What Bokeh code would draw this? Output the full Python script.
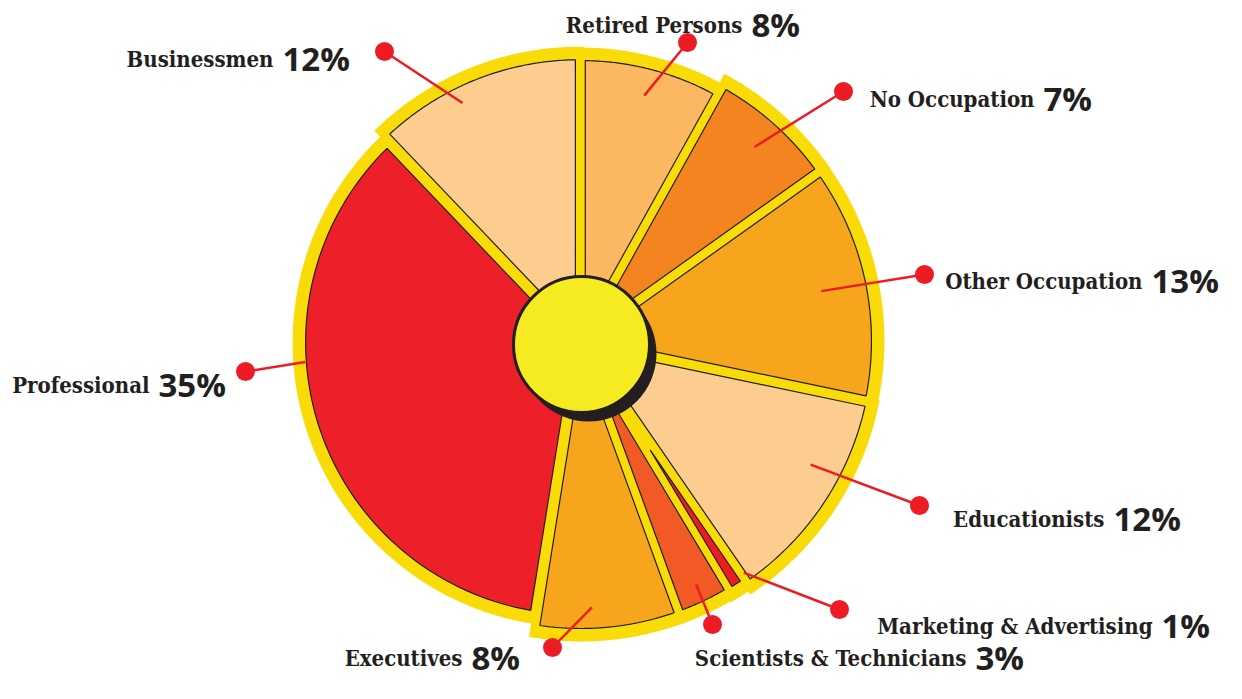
import numpy as np
from bokeh.plotting import figure
from bokeh.models import Range1d, ColumnDataSource
from bokeh.core.properties import value
from bokeh.embed import file_html
from bokeh.resources import INLINE

# ---------------- data ----------------
categories = ["Retired Persons", "No Occupation", "Other Occupation", "Educationists",
              "Marketing & Advertising", "Scientists & Technicians", "Executives",
              "Professional", "Businessmen"]
shares = [8, 7, 13, 12, 1, 3, 8, 35, 12]

# ---------------- style ----------------
colors = ["#fbb861", "#f3841f", "#f7a51d", "#fccd8e", "#ed1c24", "#f15a24",
          "#f7a51d", "#ed2029", "#fccd8e"]
RING = "#f9dc07"
INK = "#231f20"
CENTER_FILL = "#f6eb21"

# layout (page pixels): pie centre, per-wedge radius, label anchors
cx, cy = 588.0, 349.0
radii = [278, 288, 288, 289, 285, 284, 284, 272, 279]
ring_w = 13.0
gap = 8.0
explode = 3.0
hub_x, hub_y, hub_r = 589.0, 352.0, 68.0
dots = [(695, 50), (851, 99), (932, 282), (927, 513), (847, 617),
        (720, 632), (560, 655), (253, 379), (392, 59)]
name_end = [(750, 32), (1042, 106), (1150, 288), (1112, 526), (1160, 633),
            (974, 665), (470, 665), (157, 392), (281, 66)]
tip_angle_offset = [0, 0, 0, -5.5, -2.5, 0, 3, 13, -4.5]
tip_radius = [254, 261, 246, 261, 283, 269, 266, 276, 266]

W, H = 1220, 683
p = figure(width=W, height=H, x_range=Range1d(8, 8 + W), y_range=Range1d(8 + H, 8),
           output_backend="svg", toolbar_location=None, min_border=0,
           x_axis_location=None, y_axis_location=None)
p.grid.visible = False
p.outline_line_color = None
p.background_fill_color = "white"
p.border_fill_color = "white"


def u(a_deg):
    a = np.radians(a_deg)
    return np.sin(a), -np.cos(a)


total = float(sum(shares))
edges = np.concatenate([[0.0], np.cumsum(shares)]) * 360.0 / total

yx, yy, wx, wy, mids = [], [], [], [], []
for i in range(len(shares)):
    a0, a1 = edges[i], edges[i + 1]
    R = radii[i]
    h = (a1 - a0) / 2.0
    m = a0 + h
    mids.append(m)
    ex, ey = u(m)
    ox, oy = explode * ex, explode * ey
    # yellow backing sector
    eps = np.degrees(np.arcsin(5.0 / (R + ring_w)))
    arc = np.linspace(a0 - eps, a1 + eps, 80)
    ax_, ay_ = u(arc)
    yx.append(list(np.concatenate([[cx + ox], cx + ox + (R + ring_w) * ax_])))
    yy.append(list(np.concatenate([[cy + oy], cy + oy + (R + ring_w) * ay_])))
    # coloured wedge, inset by half the gap on each side
    s = (gap / 2.0) / np.sin(np.radians(h))
    d = np.degrees(np.arcsin((gap / 2.0) / R))
    arc = np.linspace(a0 + d, a1 - d, 80)
    ax_, ay_ = u(arc)
    wx.append(list(np.concatenate([[cx + ox + s * ex], cx + ox + R * ax_])))
    wy.append(list(np.concatenate([[cy + oy + s * ey], cy + oy + R * ay_])))

# base ring disk
p.circle(x=[cx], y=[cy], radius=min(radii) + 4, fill_color=RING, line_color=None)
p.patches(xs=yx, ys=yy, fill_color=RING, line_color=None)
p.patches(xs=wx, ys=wy, fill_color=colors, line_color=INK, line_width=1.2)

# leader lines
tx, ty = [], []
for i, m in enumerate(mids):
    ex, ey = u(m + tip_angle_offset[i])
    tx.append(cx + tip_radius[i] * ex)
    ty.append(cy + tip_radius[i] * ey)
dx = [d[0] for d in dots]
dy = [d[1] for d in dots]
p.segment(x0=tx, y0=ty, x1=dx, y1=dy, line_color="#ed1c24", line_width=2.5)

# hub with shadow
p.circle(x=[hub_x + 7], y=[hub_y + 9], radius=hub_r, fill_color=INK, line_color=None)
p.circle(x=[hub_x], y=[hub_y], radius=hub_r, fill_color=CENTER_FILL, line_color=INK,
         line_width=3)

# dots
p.scatter(x=dx, y=dy, size=19, fill_color="#ed1c24", line_color=None)

# labels
src = ColumnDataSource(dict(
    x=[n[0] for n in name_end], y=[n[1] for n in name_end],
    xp=[n[0] + 9 for n in name_end],
    name=categories, pct=[f"{s}%" for s in shares]))
p.text(x="x", y="y", text="name", source=src, text_align="right",
       text_baseline="alphabetic", text_font=value("DejaVu Serif Condensed"),
       text_font_style="bold", text_font_size="22px", text_color=INK)
p.text(x="xp", y="y", text="pct", source=src, text_align="left",
       text_baseline="alphabetic", text_font=value("Open Sans"),
       text_font_style="bold", text_font_size="33px", text_color=INK)

open("out.html", "w").write(file_html(p, INLINE))
